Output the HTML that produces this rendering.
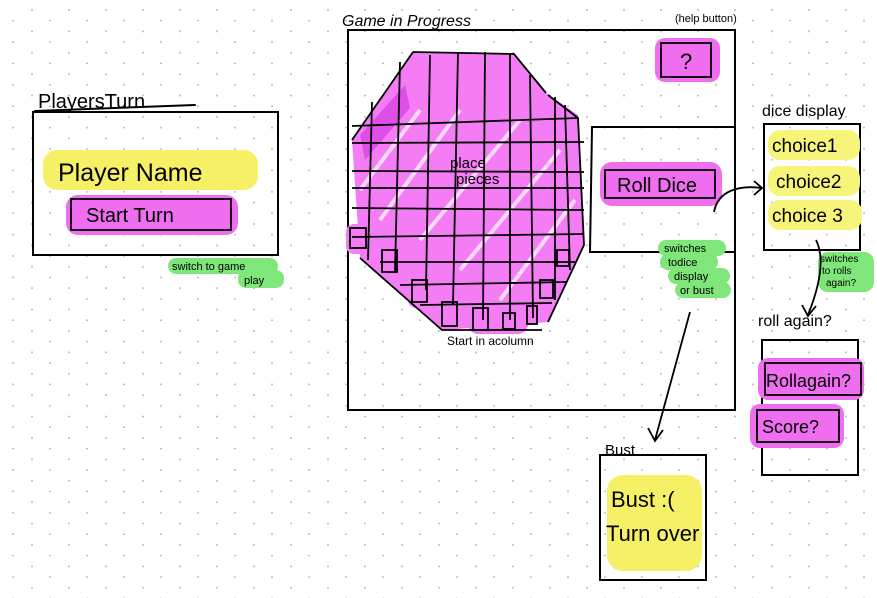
<!DOCTYPE html>
<html><head><meta charset="utf-8"><style>
html,body{margin:0;padding:0;background:#fff;width:877px;height:598px;overflow:hidden}
svg text{font-family:"Liberation Sans",sans-serif;fill:#000}
</style></head><body>
<svg width="877" height="598" viewBox="0 0 877 598" xmlns="http://www.w3.org/2000/svg">
<defs>
<pattern id="d" patternUnits="userSpaceOnUse" width="37" height="21.4">
<circle cx="32" cy="10" r="1" fill="#bbb"/><circle cx="13" cy="20.7" r="1" fill="#bbb"/>
</pattern>
</defs>
<rect width="877" height="598" fill="#fff"/>
<rect width="877" height="598" fill="url(#d)"/>
<g fill="none" stroke="#000" stroke-width="2" stroke-linecap="round">
<path d="M35 111 L195 105"/>
<rect x="33" y="112" width="245" height="143"/>
<rect x="348" y="30" width="387" height="380"/>
<path d="M735 127 L592 127 L590 252 L735 252"/>
<rect x="764" y="124" width="96" height="126"/>
<rect x="762" y="340" width="96" height="135"/>
<rect x="600" y="455" width="106" height="125"/>
</g>
<rect x="43" y="150" width="215" height="40" rx="14" fill="#f5f066"/>
<rect x="66" y="195" width="172" height="40" rx="12" fill="#ef6ef0"/>
<rect x="655" y="38" width="65" height="44" rx="10" fill="#ef6ef0"/>
<rect x="600" y="162" width="122" height="44" rx="12" fill="#ef6ef0"/>
<rect x="768" y="130" width="92" height="30" rx="12" fill="#f7f47a"/>
<rect x="768" y="166" width="92" height="30" rx="12" fill="#f7f47a"/>
<rect x="768" y="200" width="94" height="30" rx="12" fill="#f7f47a"/>
<rect x="758" y="358" width="106" height="42" rx="10" fill="#ef6ef0"/>
<rect x="750" y="404" width="94" height="44" rx="10" fill="#ef6ef0"/>
<rect x="607" y="475" width="95" height="96" rx="16" fill="#f5f066"/>
<g fill="#7fe67a">
<rect x="168" y="258" width="110" height="16" rx="8"/>
<rect x="238" y="270" width="46" height="18" rx="8"/>
<rect x="658" y="240" width="68" height="16" rx="8"/>
<rect x="660" y="254" width="58" height="16" rx="8"/>
<rect x="668" y="268" width="62" height="16" rx="8"/>
<rect x="675" y="282" width="56" height="16" rx="8"/>
<rect x="818" y="252" width="56" height="40" rx="10"/>
</g>
<path d="M413 52 L514 54 L546 93 L578 115 L584 245 L548 322 L442 330 L360 258 L352 140 Z" fill="#f47df5"/>
<g fill="#f47df5">
<rect x="346" y="224" width="24" height="30" rx="8"/><rect x="378" y="246" width="24" height="32" rx="8"/><rect x="408" y="276" width="24" height="32" rx="8"/><rect x="438" y="298" width="24" height="32" rx="8"/><rect x="468" y="304" width="60" height="30" rx="10"/><rect x="536" y="276" width="22" height="26" rx="8"/>
</g>
<path d="M360 135 L405 85 L410 108 L365 160 Z" fill="#e04ee8"/>
<g stroke="#fff" stroke-width="4" opacity="0.7">
<path d="M380 220 L460 110"/><path d="M420 240 L520 120"/><path d="M460 270 L560 150"/><path d="M500 300 L575 200"/><path d="M360 190 L420 110"/>
</g>
<g fill="none" stroke="#000" stroke-width="1.8">
<path d="M413 52 L514 54 L546 93 M548 95 L578 118 L584 245 L548 322 M542 330 L442 330 L360 258 M352 140 L413 52"/>
<path d="M352 126 L578 118 M352 143 L584 142 M352 171 L584 172 M352 188 L584 188 M352 208 L584 210 M352 237 L584 234 M380 262 L575 262 M400 285 L566 282 M420 305 L552 303"/>
<path d="M372 102 L368 260 M400 62 L395 272 M430 55 L426 290 M458 52 L453 305 M485 52 L483 320 M510 54 L510 320 M530 75 L533 318 M555 97 L555 300 M565 105 L570 270"/>
<rect x="350" y="228" width="16" height="20"/><rect x="382" y="250" width="15" height="22"/><rect x="412" y="280" width="15" height="22"/><rect x="442" y="302" width="15" height="24"/><rect x="473" y="308" width="15" height="22"/><rect x="503" y="313" width="12" height="16"/><rect x="527" y="306" width="10" height="18"/><rect x="540" y="280" width="13" height="18"/><rect x="557" y="250" width="12" height="16"/>
<rect x="71" y="199" width="160" height="31"/>
<rect x="661" y="43" width="50" height="34"/>
<rect x="605" y="170" width="110" height="28"/>
<rect x="765" y="363" width="96" height="32"/>
<rect x="757" y="410" width="82" height="32"/>
<path d="M714 212 C718 190 740 185 762 188 M754 181 L762 188 L754 195"/>
<path d="M816 240 C826 260 818 290 808 315 M802 305 L808 316 L816 306"/>
<path d="M690 312 L655 440 M648 428 L655 441 L663 430"/>
</g>
<text x="38" y="108" font-size="20">PlayersTurn</text>
<text x="58" y="181" font-size="25">Player Name</text>
<text x="86" y="222" font-size="20">Start Turn</text>
<text x="172" y="270" font-size="11">switch to game</text>
<text x="244" y="284" font-size="11">play</text>
<text x="342" y="26" font-size="16" font-style="italic">Game in Progress</text>
<text x="675" y="22" font-size="11">(help button)</text>
<text x="680" y="69" font-size="22">?</text>
<text x="450" y="168" font-size="15">place</text>
<text x="456" y="184" font-size="15">pieces</text>
<text x="447" y="345" font-size="12">Start in acolumn</text>
<text x="617" y="192" font-size="20">Roll Dice</text>
<text x="664" y="252" font-size="11">switches</text>
<text x="668" y="266" font-size="11">todice</text>
<text x="674" y="280" font-size="11">display</text>
<text x="680" y="294" font-size="11">or bust</text>
<text x="762" y="116" font-size="16">dice display</text>
<text x="772" y="152" font-size="19">choice1</text>
<text x="776" y="188" font-size="19">choice2</text>
<text x="772" y="222" font-size="19">choice 3</text>
<text x="820" y="262" font-size="10">switches</text>
<text x="822" y="274" font-size="10">to rolls</text>
<text x="826" y="286" font-size="10">again?</text>
<text x="758" y="326" font-size="16">roll again?</text>
<text x="766" y="387" font-size="18">Rollagain?</text>
<text x="762" y="433" font-size="18">Score?</text>
<text x="605" y="455" font-size="15">Bust</text>
<text x="611" y="507" font-size="22">Bust :(</text>
<text x="606" y="541" font-size="22">Turn over</text>
</svg>
</body></html>
